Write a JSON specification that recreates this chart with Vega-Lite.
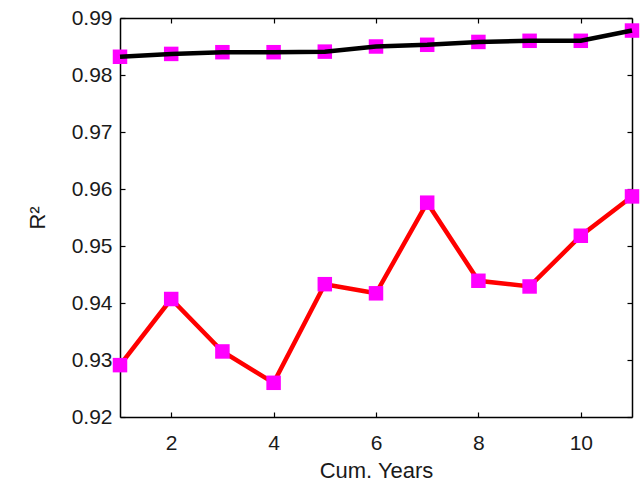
{
  "$schema": "https://vega.github.io/schema/vega-lite/v6.json",
  "width": 512,
  "height": 399,
  "autosize": "none",
  "padding": {"left": 120, "top": 18, "right": 9, "bottom": 69},
  "background": "white",
  "config": {
    "view": {"stroke": null},
    "axis": {
      "domainColor": "black",
      "domainWidth": 1.5,
      "tickColor": "black",
      "tickWidth": 1.2,
      "grid": false,
      "labelFont": "Liberation Sans",
      "labelFontSize": 21,
      "labelColor": "#1a1a1a",
      "titleFont": "Liberation Sans",
      "titleFontSize": 22,
      "titleFontWeight": "normal",
      "titleColor": "#1a1a1a"
    }
  },
  "data": {
    "values": [
      {"year": 1, "r2": 0.9291, "series": "red"},
      {"year": 2, "r2": 0.9407, "series": "red"},
      {"year": 3, "r2": 0.9315, "series": "red"},
      {"year": 4, "r2": 0.9260, "series": "red"},
      {"year": 5, "r2": 0.9433, "series": "red"},
      {"year": 6, "r2": 0.9417, "series": "red"},
      {"year": 7, "r2": 0.9576, "series": "red"},
      {"year": 8, "r2": 0.9439, "series": "red"},
      {"year": 9, "r2": 0.9429, "series": "red"},
      {"year": 10, "r2": 0.9518, "series": "red"},
      {"year": 11, "r2": 0.9587, "series": "red"},
      {"year": 1, "r2": 0.9832, "series": "black"},
      {"year": 2, "r2": 0.9837, "series": "black"},
      {"year": 3, "r2": 0.9840, "series": "black"},
      {"year": 4, "r2": 0.9840, "series": "black"},
      {"year": 5, "r2": 0.9841, "series": "black"},
      {"year": 6, "r2": 0.9850, "series": "black"},
      {"year": 7, "r2": 0.9853, "series": "black"},
      {"year": 8, "r2": 0.9858, "series": "black"},
      {"year": 9, "r2": 0.9860, "series": "black"},
      {"year": 10, "r2": 0.9860, "series": "black"},
      {"year": 11, "r2": 0.9878, "series": "black"}
    ]
  },
  "encoding": {
    "x": {"field": "year", "type": "quantitative", "scale": {"domain": [1, 11], "nice": false, "zero": false}},
    "y": {"field": "r2", "type": "quantitative", "scale": {"domain": [0.92, 0.99], "nice": false, "zero": false}}
  },
  "layer": [
    {
      "transform": [{"filter": "datum.series === 'red'"}],
      "mark": {"type": "line", "color": "#ff0000", "strokeWidth": 4.5, "clip": false},
      "encoding": {
        "x": {"field": "year", "type": "quantitative", "axis": {"orient": "bottom", "title": "Cum. Years", "values": [2, 4, 6, 8, 10], "tickSize": -5, "labelPadding": 20, "titlePadding": 7}},
        "y": {"field": "r2", "type": "quantitative", "axis": {"orient": "left", "title": "R²", "values": [0.92, 0.93, 0.94, 0.95, 0.96, 0.97, 0.98, 0.99], "format": ".2f", "tickSize": -5, "labelPadding": 13, "titlePadding": 22}}
      }
    },
    {
      "transform": [{"filter": "datum.series === 'red'"}],
      "mark": {"type": "point", "shape": "square", "filled": true, "color": "#ff00ff", "opacity": 1, "size": 210, "clip": false},
      "encoding": {
        "x": {"field": "year", "type": "quantitative", "axis": null},
        "y": {"field": "r2", "type": "quantitative", "axis": null}
      }
    },
    {
      "transform": [{"filter": "datum.series === 'black'"}],
      "mark": {"type": "point", "shape": "square", "filled": true, "color": "#ff00ff", "opacity": 1, "size": 210, "clip": false},
      "encoding": {
        "x": {"field": "year", "type": "quantitative", "axis": null},
        "y": {"field": "r2", "type": "quantitative", "axis": null}
      }
    },
    {
      "transform": [{"filter": "datum.series === 'black'"}],
      "mark": {"type": "line", "color": "#000000", "strokeWidth": 4.5, "clip": false},
      "encoding": {
        "x": {"field": "year", "type": "quantitative", "axis": null},
        "y": {"field": "r2", "type": "quantitative", "axis": null}
      }
    },
    {
      "mark": {"type": "point", "opacity": 0},
      "encoding": {
        "x": {"field": "year", "type": "quantitative", "axis": {"orient": "top", "title": null, "labels": false, "values": [2, 4, 6, 8, 10], "tickSize": -5}},
        "y": {"field": "r2", "type": "quantitative", "axis": {"orient": "right", "title": null, "labels": false, "values": [0.92, 0.93, 0.94, 0.95, 0.96, 0.97, 0.98, 0.99], "tickSize": -5}}
      }
    }
  ],
  "resolve": {"axis": {"x": "independent", "y": "independent"}}
}
